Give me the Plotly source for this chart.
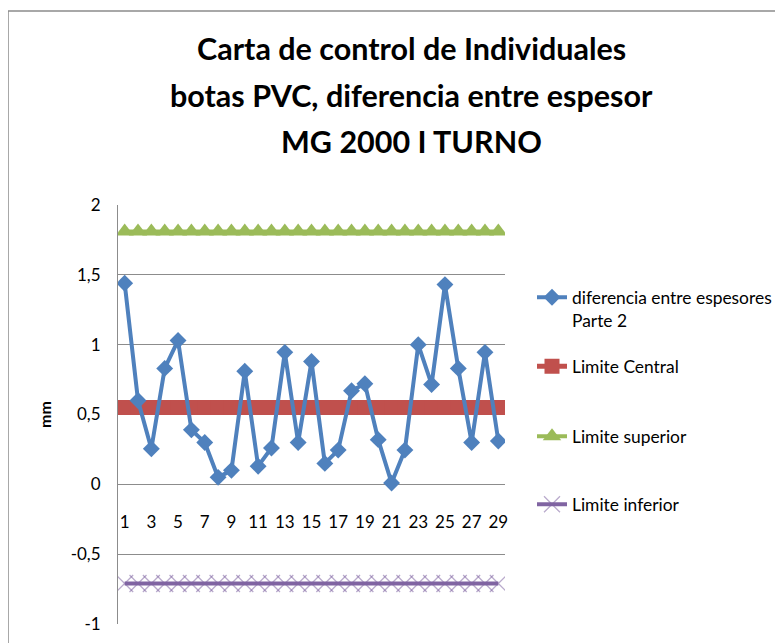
import plotly.graph_objects as go

# ---- data ----
muestras = [1, 2, 3, 4, 5, 6, 7, 8, 9, 10, 11, 12, 13, 14, 15,
            16, 17, 18, 19, 20, 21, 22, 23, 24, 25, 26, 27, 28, 29]
diferencia = [1.44, 0.60, 0.255, 0.83, 1.03, 0.39, 0.30, 0.05, 0.10, 0.81,
              0.13, 0.26, 0.945, 0.30, 0.88, 0.15, 0.245, 0.67, 0.72, 0.32,
              0.01, 0.245, 1.00, 0.715, 1.43, 0.83, 0.30, 0.945, 0.31]
limite_central = [0.55] * 29
limite_superior = [1.81] * 29
limite_inferior = [-0.71] * 29

y_tickvals = [-1, -0.5, 0, 0.5, 1, 1.5, 2]
y_ticktext = ["-1", "-0,5", "0", "0,5", "1", "1,5", "2"]
x_tickvals = [1, 3, 5, 7, 9, 11, 13, 15, 17, 19, 21, 23, 25, 27, 29]
x_ticktext = ["1", "3", "5", "7", "9", "11", "13", "15", "17", "19",
              "21", "23", "25", "27", "29"]

title_lines = ["Carta de control de Individuales",
               "botas PVC, diferencia entre espesor",
               "MG 2000 I TURNO"]

FONT = "Lato"
BLUE = "#4F81BD"
RED = "#C0504D"
GREEN = "#9BBB59"
PURPLE = "#8064A2"

fig = go.Figure()

fig.add_trace(go.Scatter(
    x=muestras, y=limite_superior, name="Limite superior", mode="lines+markers",
    line=dict(color=GREEN, width=4),
    marker=dict(symbol="triangle-up", size=16, color=GREEN),
    legend="legend3"))
fig.add_trace(go.Scatter(
    x=muestras, y=limite_inferior, name="Limite inferior", mode="lines+markers",
    line=dict(color=PURPLE, width=4),
    marker=dict(symbol="x-thin", size=17,
                line=dict(color="rgba(128,100,162,0.55)", width=1.3)),
    legend="legend4"))
fig.add_trace(go.Scatter(
    x=muestras, y=limite_central, name="Limite Central", mode="lines+markers",
    line=dict(color=RED, width=5),
    marker=dict(symbol="square", size=15, color=RED),
    legend="legend2"))
fig.add_trace(go.Scatter(
    x=muestras, y=diferencia, name="diferencia entre espesores<br>Parte 2",
    mode="lines+markers",
    line=dict(color=BLUE, width=4),
    marker=dict(symbol="diamond", size=13, color=BLUE),
    legend="legend"))

# window pixel geometry (page body has an 8px margin)
OFF = 8
W, H = 783 - OFF, 643 - OFF
L, T = 118 - OFF, 205 - OFF
R = W - (505 - OFF)
B = H - (624 - OFF)
pw, ph = W - L - R, H - T - B

def px_x(px):
    return (px - OFF - L) / pw

def px_y(py):
    return (H - B - (py - OFF)) / ph

title_y = [48, 95, 141]
for txt, yy in zip(title_lines, title_y):
    fig.add_annotation(text="<b>" + txt + "</b>", xref="paper", yref="paper",
                       x=px_x(411), y=px_y(yy), showarrow=False,
                       xanchor="center", yanchor="middle",
                       font=dict(family=FONT, size=30.5, color="#000000"))

legfont = dict(family=FONT, size=17.4, color="#000000")
def leg(yc):
    return dict(x=px_x(532), y=px_y(yc), xanchor="left", yanchor="top",
                bgcolor="rgba(0,0,0,0)", font=legfont, valign="top",
                itemwidth=30)

fig.update_layout(
    width=W, height=H,
    margin=dict(l=L, r=R, t=T, b=B, autoexpand=False),
    paper_bgcolor="white", plot_bgcolor="white",
    font=dict(family=FONT, size=17, color="#000000"),
    showlegend=True,
    legend=leg(279.5),
    legend2=leg(348.5),
    legend3=leg(418.5),
    legend4=leg(486.5),
    xaxis=dict(range=[0.5, 29.5], tickmode="array", tickvals=x_tickvals,
               ticktext=x_ticktext, showgrid=False, zeroline=False,
               showline=False, anchor="free", position=1/3, ticks="",
               ticklabelstandoff=26,
               tickfont=dict(family=FONT, size=17, color="#000000")),
    yaxis=dict(range=[-1, 2], tickmode="array", tickvals=y_tickvals,
               ticktext=y_ticktext, showgrid=True, gridcolor="#8C8C8C",
               gridwidth=1, zeroline=False, showline=True,
               linecolor="#8C8C8C", linewidth=1, ticks="",
               ticklabelstandoff=13,
               tickfont=dict(family=FONT, size=17, color="#000000")),
    shapes=[dict(type="rect", xref="paper", yref="paper",
                 x0=px_x(8), x1=px_x(783 + 10), y0=px_y(643 + 10), y1=px_y(11),
                 line=dict(color="#8C8C8C", width=1.5), layer="below")],
)
fig.update_yaxes(title=dict(text="<b>mm</b>", standoff=15,
                            font=dict(family=FONT, size=16, color="#000000")))

fig.write_html("out.html")
